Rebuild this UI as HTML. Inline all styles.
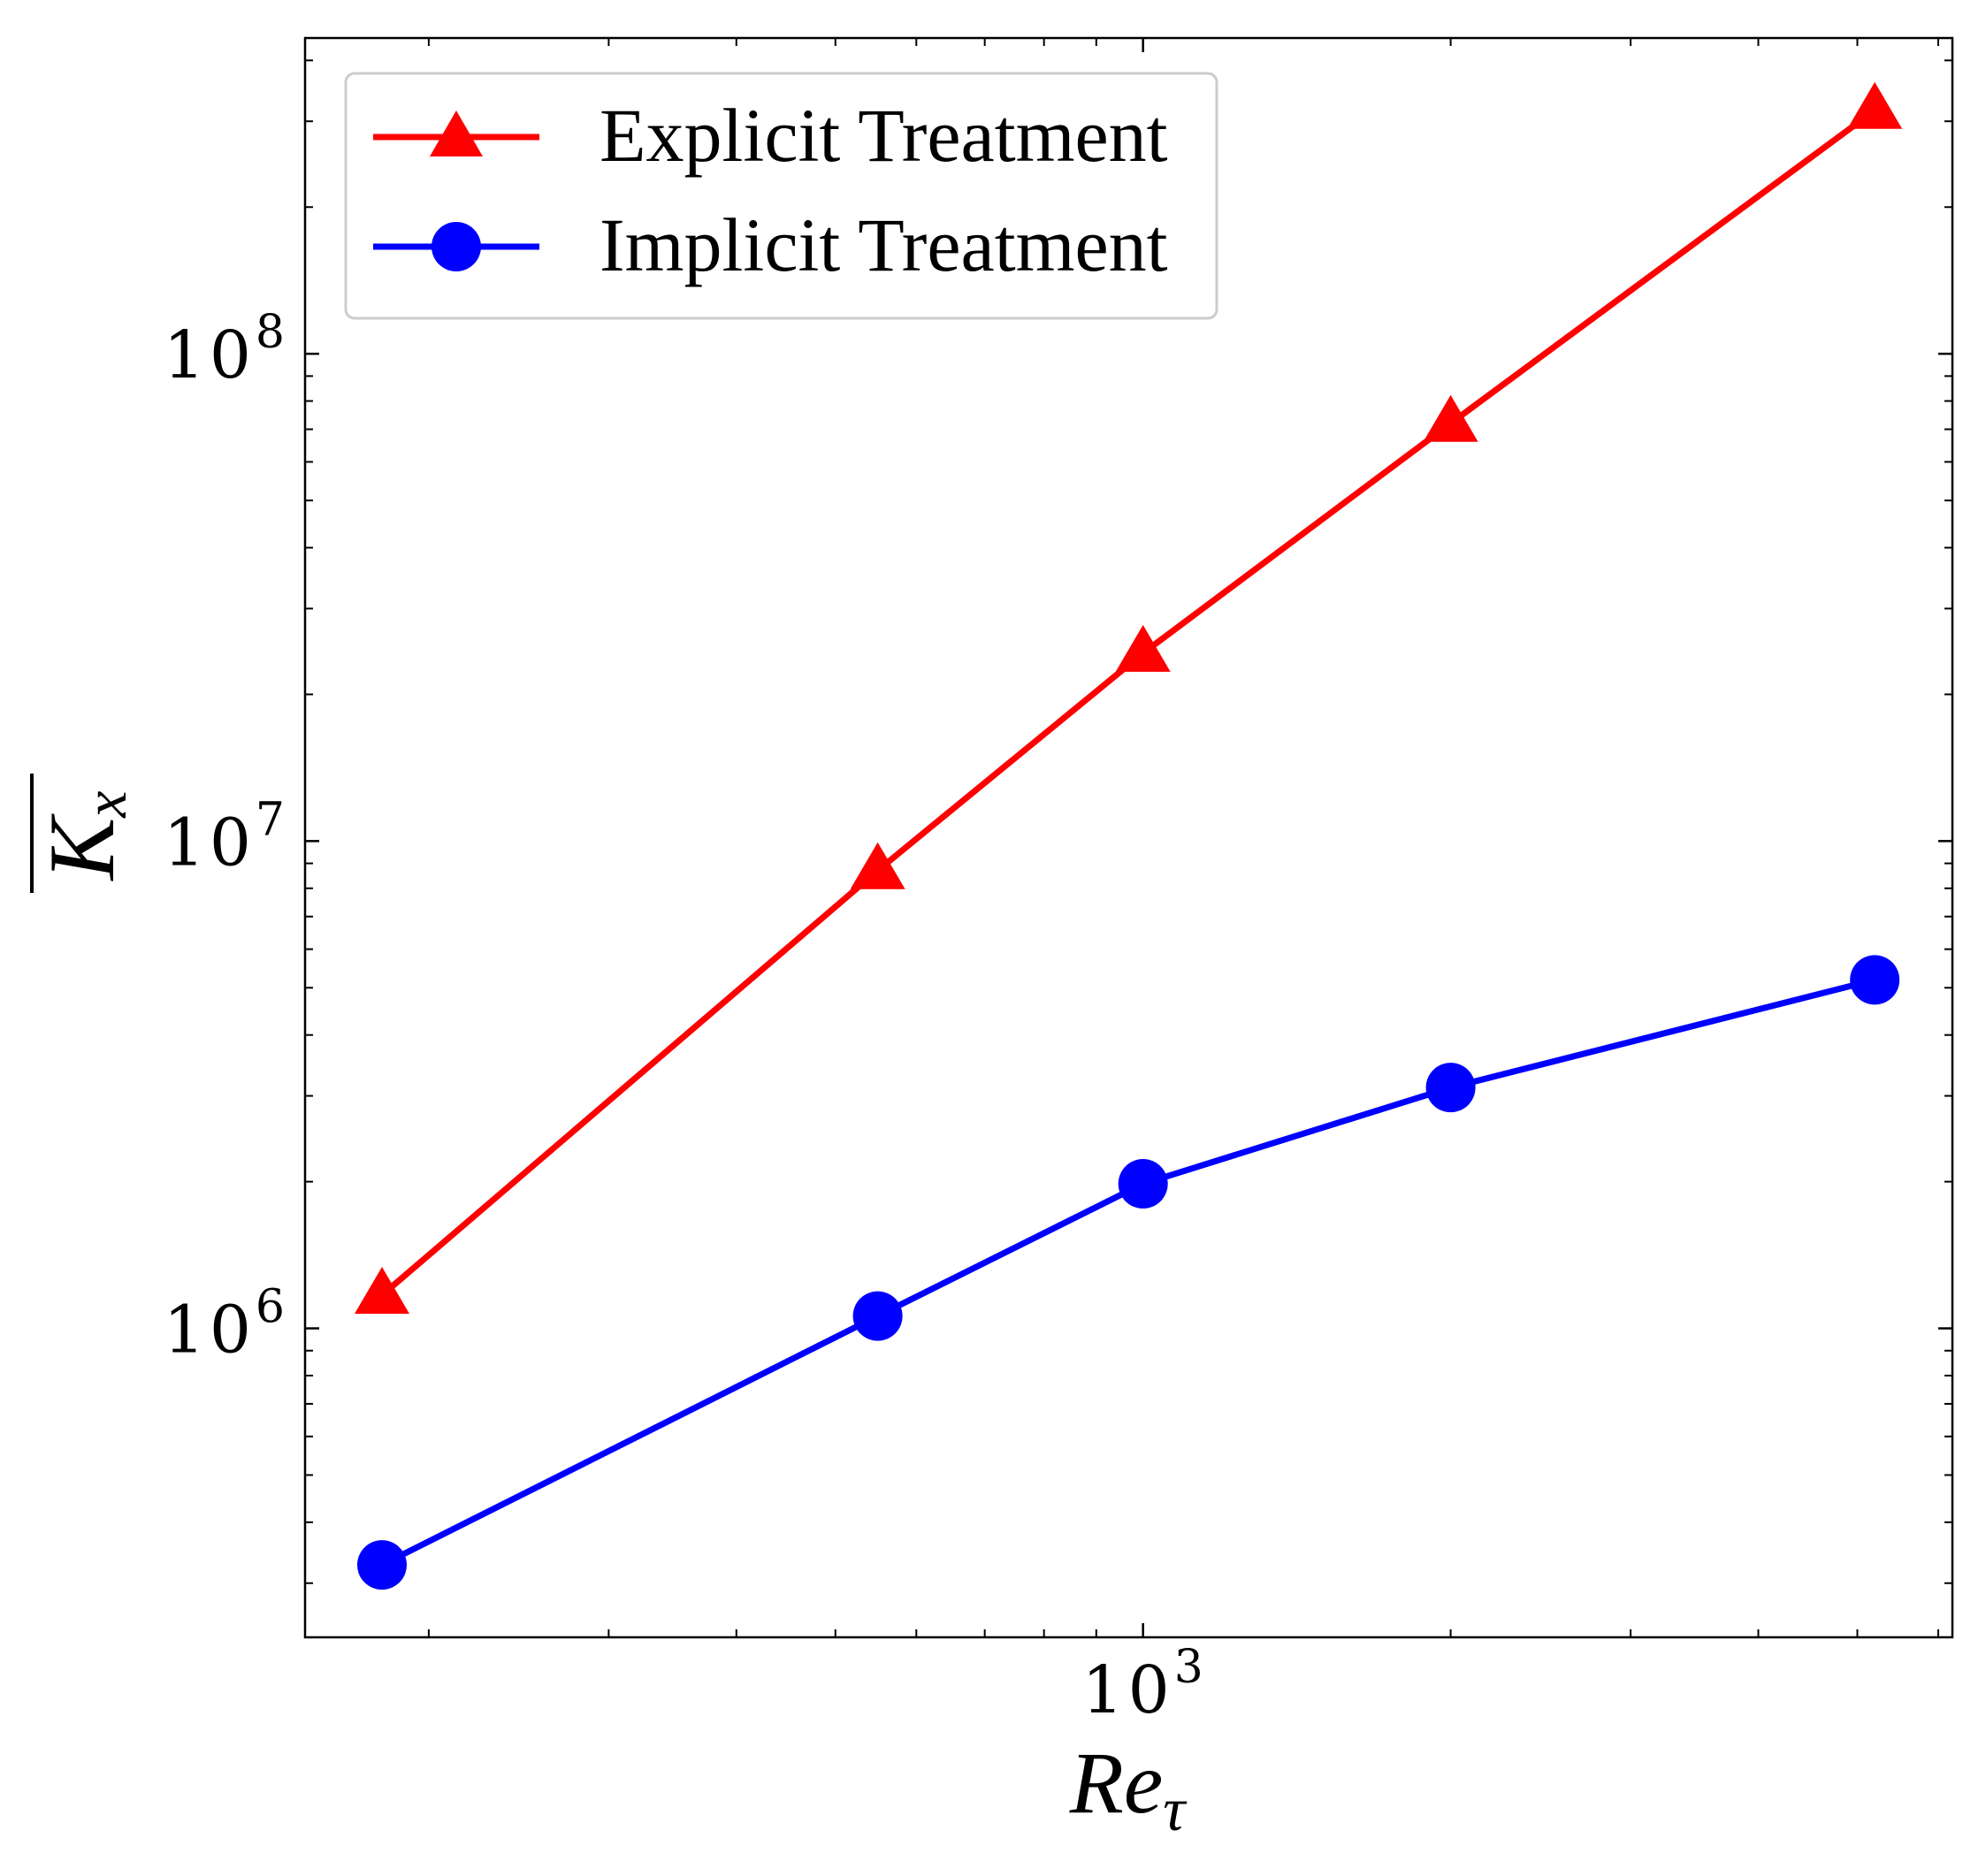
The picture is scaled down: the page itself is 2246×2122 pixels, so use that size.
<!DOCTYPE html>
<html><head><meta charset="utf-8"><style>
html,body{margin:0;padding:0;background:#fff;}
svg{display:block;font-family:"Liberation Serif","DejaVu Serif",serif;}
.tk{font-family:"DejaVu Serif","Liberation Serif",serif;}
</style></head><body>
<svg id="chart" width="2246" height="2122" viewBox="0 0 2246 2122" xmlns="http://www.w3.org/2000/svg">
<g id="grid"></g>
<g id="lines"></g>
<rect x="345" y="43" width="1863" height="1809" fill="none" stroke="#000" stroke-width="2.5"/>
<g>
<rect x="391" y="83" width="985" height="277" rx="10" fill="#fff" fill-opacity="0.8" stroke="#ccc" stroke-width="3"/>
<g>
<line x1="422" y1="155" x2="610" y2="155" stroke="#ff0000" stroke-width="7"/>
<polygon points="516,125 546,177 486,177" fill="#ff0000"/>
<text x="678" y="182" font-size="86" fill="#000">Explicit Treatment</text>
</g>
<g>
<line x1="422" y1="279" x2="610" y2="279" stroke="#0000ff" stroke-width="7"/>
<circle cx="516" cy="279" r="28" fill="#0000ff"/>
<text x="678" y="306" font-size="86" fill="#000">Implicit Treatment</text>
</g>
</g>
<text x="1275" y="2050" font-size="100" font-style="italic" text-anchor="middle">Re<tspan font-size="70" dy="20">τ</tspan></text>
<g transform="translate(128,935) rotate(-90)">
<line x1="-75" y1="-92" x2="60" y2="-92" stroke="#000" stroke-width="4"/>
<text x="-10" y="0" font-size="106" font-style="italic" text-anchor="middle">K<tspan font-size="68" dy="14">x</tspan></text>
</g>
</svg>
<script>
const categories = [180, 550, 1000, 2000, 5200];
const explicitValues = [1.17e6, 8.7e6, 2.43e7, 7.2e7, 3.16e8];
const implicitValues = [3.27e5, 1.06e6, 1.98e6, 3.12e6, 5.19e6];
const yTickLabels = ["6", "7", "8"];
const xTickLabels = ["3"];

const L=345,R=2208,T=43,B=1852;
const xMin=2.180,xMax=3.792,yMin=5.366,yMax=8.648;
const xs=v=>L+(Math.log10(v)-xMin)/(xMax-xMin)*(R-L);
const ys=v=>B-(Math.log10(v)-yMin)/(yMax-yMin)*(B-T);
const NS="http://www.w3.org/2000/svg";
const grid=document.getElementById('grid'), lines=document.getElementById('lines');
function mk(tag,attrs,parent){const e=document.createElementNS(NS,tag);for(const k in attrs)e.setAttribute(k,attrs[k]);parent.appendChild(e);return e;}
for(let d=5;d<=8;d++){for(let m=1;m<10;m++){const v=m*Math.pow(10,d);const lv=Math.log10(v);if(lv<yMin||lv>yMax)continue;const y=ys(v);const len=m===1?16:9;const w=m===1?2.5:2;
 const t1=mk('line',{x1:L,y1:y,x2:L+len,y2:y,stroke:'#000','stroke-width':w},grid);
 
 
 mk('line',{x1:R,y1:y,x2:R-len,y2:y,stroke:'#000','stroke-width':w},grid);}}
yTickLabels.forEach(s=>{const y=ys(Math.pow(10,+s));
 const t=mk('text',{x:327,y:y+27,'font-size':74,'text-anchor':'end','class':'tk','letter-spacing':'5'},grid);
 
 
 t.innerHTML='10<tspan font-size="52" dy="-34">'+s+'</tspan>';});
for(let d=2;d<=3;d++){for(let m=1;m<10;m++){const v=m*Math.pow(10,d);const lv=Math.log10(v);if(lv<xMin||lv>xMax)continue;const x=xs(v);const len=m===1?16:9;const w=m===1?2.5:2;
 const t1=mk('line',{x1:x,y1:B,x2:x,y2:B-len,stroke:'#000','stroke-width':w},grid);
 
 
 mk('line',{x1:x,y1:T,x2:x,y2:T+len,stroke:'#000','stroke-width':w},grid);}}
xTickLabels.forEach(s=>{const x=xs(Math.pow(10,+s));
 const t=mk('text',{x:x+2,y:1937,'font-size':74,'text-anchor':'middle','class':'tk','letter-spacing':'5'},grid);
 
 
 t.innerHTML='10<tspan font-size="52" dy="-34">'+s+'</tspan>';});
function series(vals,color,name,marker){
 const pts=categories.map((c,i)=>xs(c)+','+ys(vals[i])).join(' ');
 const pl=mk('polyline',{points:pts,fill:'none',stroke:color,'stroke-width':7,'stroke-linejoin':'round'},lines);
 
 
 categories.forEach((c,i)=>{const x=xs(c),y=ys(vals[i]);let m;
  if(marker==='tri') m=mk('polygon',{points:`${x},${y-32} ${x+31},${y+21} ${x-31},${y+21}`,fill:color},lines);
  else m=mk('circle',{cx:x,cy:y,r:28,fill:color},lines);
  
  
 });
}
series(explicitValues,'#ff0000','explicit','tri');
series(implicitValues,'#0000ff','implicit','circle');
</script>
</body></html>
